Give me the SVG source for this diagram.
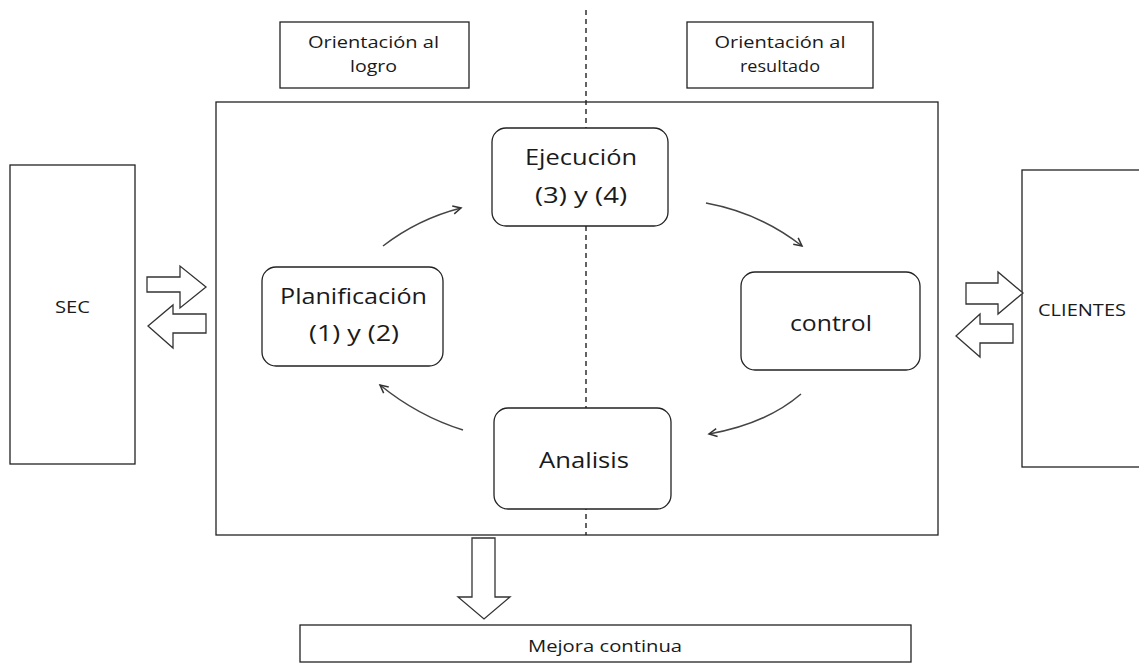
<svg xmlns="http://www.w3.org/2000/svg" width="1139" height="665" viewBox="0 0 1139 665">
  <style>
    .box { fill: #fff; stroke: #222; stroke-width: 1.3; }
    .rbox { fill: #fff; stroke: #222; stroke-width: 1.3; }
    .big { font-family: "Open Sans", "Liberation Sans", sans-serif; font-size: 22px; fill: #1a1a1a; text-anchor: middle; }
    .small { font-family: "Open Sans", "Liberation Sans", sans-serif; font-size: 17px; fill: #1a1a1a; text-anchor: middle; }
    .blk { fill: #fff; stroke: #333; stroke-width: 1.3; stroke-linejoin: miter; }
    .curve { fill: none; stroke: #444; stroke-width: 1.5; marker-end: url(#ah); }
  </style>
  <defs>
    <marker id="ah" markerWidth="12" markerHeight="12" refX="9" refY="5" orient="auto" markerUnits="userSpaceOnUse">
      <path d="M1,1 L9,5 L1,9" fill="none" stroke="#333" stroke-width="1.5"/>
    </marker>
  </defs>

  <rect width="1139" height="665" fill="#fff"/>

  <!-- main frame -->
  <g id="frame">
    <rect class="box" x="216" y="102" width="722" height="433"/>
  </g>

  <!-- divider -->
  <g id="divider">
    <line x1="586" y1="10" x2="586" y2="535" stroke="#222" stroke-width="1.4" stroke-dasharray="5,4"/>
  </g>

  <g id="orient-logro">
    <rect class="box" x="280" y="22" width="189" height="66"/>
    <text class="small" x="373.5" y="48" textLength="131" lengthAdjust="spacingAndGlyphs">Orientación al</text>
    <text class="small" x="373.5" y="72" textLength="47" lengthAdjust="spacingAndGlyphs">logro</text>
  </g>

  <g id="orient-resultado">
    <rect class="box" x="687" y="22" width="186" height="66"/>
    <text class="small" x="780" y="48" textLength="131" lengthAdjust="spacingAndGlyphs">Orientación al</text>
    <text class="small" x="780" y="72" textLength="80" lengthAdjust="spacingAndGlyphs">resultado</text>
  </g>

  <g id="sec">
    <rect class="box" x="10" y="165" width="125" height="299"/>
    <text class="small" x="72.5" y="313" textLength="35" lengthAdjust="spacingAndGlyphs">SEC</text>
  </g>

  <g id="clientes">
    <rect class="box" x="1022" y="170" width="130" height="297"/>
    <text class="small" x="1082" y="316" textLength="88" lengthAdjust="spacingAndGlyphs">CLIENTES</text>
  </g>

  <g id="ejecucion">
    <rect class="rbox" x="492" y="128" width="176" height="98" rx="14"/>
    <text class="big" x="581" y="165" textLength="112" lengthAdjust="spacingAndGlyphs">Ejecución</text>
    <text class="big" x="581" y="203" textLength="92" lengthAdjust="spacingAndGlyphs">(3) y (4)</text>
  </g>

  <g id="planificacion">
    <rect class="rbox" x="262" y="267" width="181" height="99" rx="14"/>
    <text class="big" x="353.5" y="304" textLength="147" lengthAdjust="spacingAndGlyphs">Planificación</text>
    <text class="big" x="354" y="341" textLength="90" lengthAdjust="spacingAndGlyphs">(1) y (2)</text>
  </g>

  <g id="control">
    <rect class="rbox" x="741" y="272" width="179" height="98" rx="14"/>
    <text class="big" x="831" y="331" textLength="82" lengthAdjust="spacingAndGlyphs">control</text>
  </g>

  <g id="analisis">
    <rect class="rbox" x="494" y="408" width="177" height="101" rx="14"/>
    <text class="big" x="584" y="468" textLength="90" lengthAdjust="spacingAndGlyphs">Analisis</text>
  </g>

  <g id="mejora">
    <rect class="box" x="300" y="625" width="611" height="37"/>
    <text class="small" x="605" y="652" textLength="154" lengthAdjust="spacingAndGlyphs">Mejora continua</text>
  </g>

  <!-- connectors -->
  <g id="connectors">
    <path class="curve" d="M383,246 Q418,219 461,208"/>
    <path class="curve" d="M706,203 Q760,213 802,246"/>
    <path class="curve" d="M801,394 Q766,424 709,434"/>
    <path class="curve" d="M463,430 Q418,416 380,385"/>

    <!-- block arrows -->
    <path class="blk" d="M147,277 L180,277 L180,266 L206,287 L180,308 L180,292 L147,292 Z"/>
    <path class="blk" d="M206,314 L173,314 L173,305 L148,326 L173,348 L173,333 L206,333 Z"/>
    <path class="blk" d="M966,283 L998,283 L998,272 L1023,293 L998,314 L998,304 L966,304 Z"/>
    <path class="blk" d="M1013,324 L980,324 L980,314 L956,336 L980,357 L980,343 L1013,343 Z"/>
    <path class="blk" d="M472,538 L495,538 L495,597 L510,597 L484,619 L458,597 L472,597 Z"/>
  </g>
</svg>
